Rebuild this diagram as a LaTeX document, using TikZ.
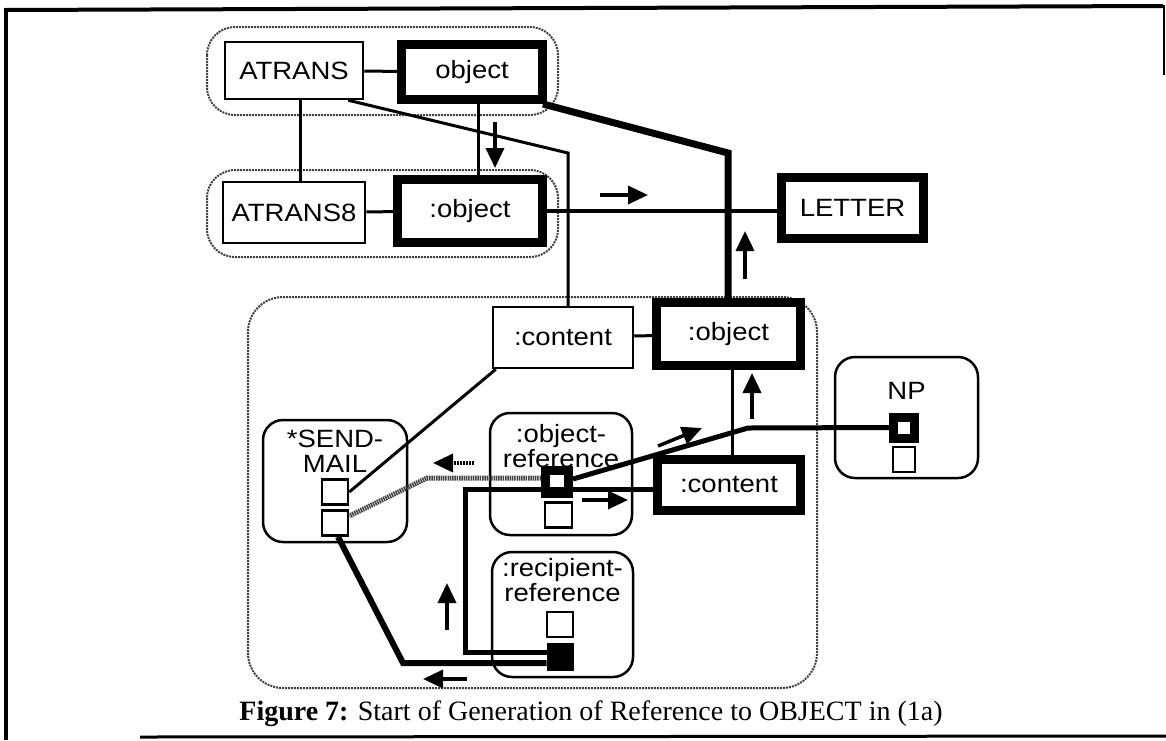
\documentclass[tikz,border=0pt]{standalone}
\usepackage{fontspec}
\setmainfont{Liberation Sans}
\newfontfamily\diafont[FakeStretch=1.1]{Liberation Sans}
\newfontfamily\capfont{Liberation Serif}
\usetikzlibrary{arrows.meta}

\newcommand{\lbl}{\diafont\fontsize{25}{25}\selectfont}

\tikzset{
	thinbox/.style={draw, line width=2.5pt, inner sep=0pt, font=\lbl},
	heavybox/.style={draw, line width=9pt, inner sep=0pt, font=\lbl},
	roundbox/.style={draw, line width=2.5pt, rounded corners=20pt, inner sep=0pt},
	port/.style={draw, line width=2.5pt, fill=white, inner sep=0pt},
	hotport/.style={draw, line width=9pt, fill=white, inner sep=0pt},
	fullport/.style={draw, fill=black, line width=1pt, inner sep=0pt},
	group/.style={draw=black!75, densely dotted, line width=2pt, rounded corners=28pt},
	link/.style={line width=3pt},
	heavylink/.style={line width=6pt},
	fuzzy/.style={draw=black!75, line width=5pt, dash pattern=on 1.5pt off 0.8pt},
	pointer/.style={line width=3.5pt, -{Triangle[length=20pt,width=18pt]}}
}

\begin{document}
\begin{tikzpicture}[x=1pt,y=-1pt]
	\useasboundingbox (0,0) rectangle (1166,740);
	
	% frame of the scanned page
	\draw[line width=4pt] (4,10) -- (1163,6);
	\draw[line width=4pt] (6,8) -- (6,740);
	\draw[line width=2pt] (1164,5) -- (1164,75);
	\draw[line width=3pt] (140,737) -- (1166,736);
	
	% groups
	\draw[group] (207,27) rectangle (558,115);
	\draw[group] (207,170) rectangle (558,257);
	\draw[group,rounded corners=35pt] (248,297) rectangle (817,688);
	
	% upper concepts
	\node[thinbox, minimum width=138pt, minimum height=57pt] (atrans) at (294,70.5) {ATRANS};
	\node[heavybox, minimum width=141pt, minimum height=55pt] (objtop) at (472,72) {object};
	\node[thinbox, minimum width=142pt, minimum height=61pt] (atrans8) at (294,212.5) {ATRANS8};
	\node[heavybox, minimum width=145pt, minimum height=63pt] (objmid) at (470,211) {:object};
	\node[heavybox, minimum width=142pt, minimum height=61pt] (letter) at (852.5,208) {LETTER};
	
	% lower concepts
	\node[thinbox, minimum width=140pt, minimum height=61pt] (contup) at (563,337.5) {:content};
	\node[heavybox, minimum width=144pt, minimum height=63pt] (objlow) at (728.5,334) {:object};
	\node[heavybox, minimum width=143pt, minimum height=51pt] (contlow) at (729,485) {:content};
	
	% rounded units
	\node[roundbox, minimum width=144pt, minimum height=122pt] (sendmail) at (335,481) {};
	\node[font=\lbl, align=center, anchor=north, inner sep=0pt] (sendmailtxt) at ([yshift=-11pt]sendmail.north) {*SEND-\\MAIL};
	\node[roundbox, minimum width=142pt, minimum height=122pt] (objref) at (561,474) {};
	\node[font=\lbl, align=center, anchor=north, inner sep=0pt] (objreftxt) at ([yshift=-12pt]objref.north) {:object-\\reference};
	\node[roundbox, minimum width=141pt, minimum height=125pt] (recref) at (562.5,614.5) {};
	\node[font=\lbl, align=center, anchor=north, inner sep=0pt] (recreftxt) at ([yshift=-7pt]recref.north) {:recipient-\\reference};
	\node[roundbox, minimum width=143pt, minimum height=121pt] (npbox) at (906.5,417.5) {};
	\node[font=\lbl, anchor=north, inner sep=0pt] (nptxt) at ([yshift=-26pt]npbox.north) {NP};
	
	% ports
	\node[port, minimum width=26pt, minimum height=25pt] (sm1) at (335,492) {};
	\node[port, minimum width=26pt, minimum height=25pt] (sm2) at (335,523) {};
	\node[hotport, minimum size=23pt] (or1) at (557,482) {};
	\node[port, minimum width=27pt, minimum height=25pt] (or2) at (558.5,515) {};
	\node[port, minimum width=26pt, minimum height=25pt] (rr1) at (560,624.5) {};
	\node[fullport, minimum width=26pt, minimum height=27pt] (rr2) at (560,656.5) {};
	\node[hotport, minimum size=21pt] (np1) at (904,427.5) {};
	\node[port, minimum width=22pt, minimum height=25pt] (np2) at (904,459.5) {};
	
	% bends
	\coordinate (bendA) at (568,153);
	\coordinate (bendB) at (728,153);
	\coordinate (bendC) at (403,663);
	\coordinate (bendD) at (748,428);
	\coordinate (bendE) at (427,478);
	\coordinate (loopL) at (465,489);
	
	% connectors
	\draw[link] (atrans) -- (objtop);
	\draw[link] (atrans8) -- (objmid);
	\draw[link] ([xshift=6pt]atrans.south) -- ([xshift=6pt]atrans.south |- atrans8.north);
	\draw[link] ([xshift=6pt]objtop.south) -- ([xshift=6pt]objtop.south |- objmid.north);
	\draw[link] ([xshift=-16pt]atrans.south east) -- (bendA) -- (bendA |- contup.north);
	\draw[line width=7pt] ([xshift=-4pt]objtop.south east) -- (bendB) -- (bendB |- objlow.north);
	\draw[line width=4pt] (objmid.east) -- (objmid.east -| letter.west);
	\draw[link] (contup) -- (objlow);
	\draw[link] ([xshift=4pt]objlow.south) -- ([xshift=4pt]objlow.south |- contlow.north);
	\draw[link] ([xshift=4pt]contup.south west) -- (sm1.east);
	\draw[line width=5pt] (np1.west) -- (bendD) -- ([yshift=3pt]or1.east);
	\draw[line width=5pt] ([yshift=-4pt]contlow.west) -- (loopL) |- ([yshift=4pt]rr2.west);
	\draw[heavylink] ([xshift=3pt]sm2.south) -- (bendC) -- (bendC -| rr2.west);
	\draw[fuzzy] ([yshift=4pt]or1.west) -- (bendE) -- ([yshift=7pt]sm2.east);
	
	% direction marks
	\draw[pointer] (495,122) -- (495,168);
	\draw[pointer] (600,195) -- (648,195);
	\draw[pointer] (745,279) -- (745,231);
	\draw[pointer] (752,419) -- (752,373);
	\draw[pointer] (658,446) -- (702,428);
	\draw[pointer] (582,500) -- (628,500);
	\draw[pointer, dash pattern=on 2pt off 1pt] (474,463) -- (433,463);
	\draw[pointer] (447,630) -- (447,583);
	\draw[pointer] (467,679) -- (423,679);
	
	% caption
	\node[font=\capfont\fontsize{28}{28}\selectfont] (caption) at (591,714) {\textbf{Figure 7:} Start of Generation of Reference to OBJECT in (1a)};
\end{tikzpicture}
\end{document}
